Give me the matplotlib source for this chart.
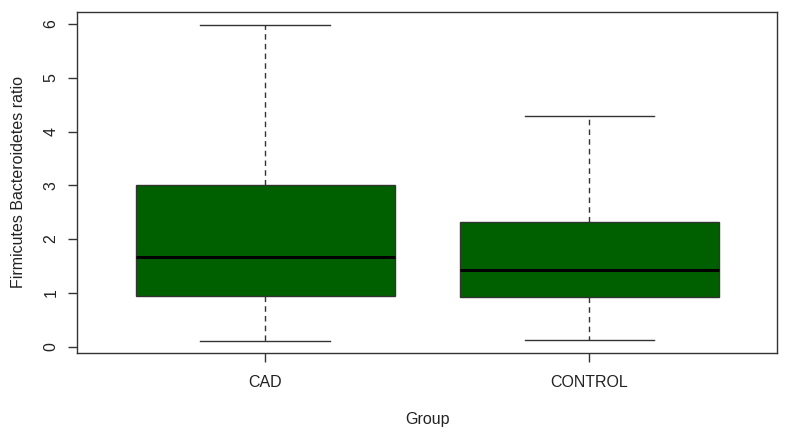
import matplotlib.pyplot as plt

plt.rcParams['font.family'] = ['Liberation Sans', 'DejaVu Sans']

groups = ["CAD", "CONTROL"]
whisker_low = [0.11, 0.12]
q1 = [0.95, 0.93]
medians = [1.67, 1.42]
q3 = [3.01, 2.31]
whisker_high = [5.98, 4.29]

stats = []
for i in range(len(groups)):
    stats.append({"label": groups[i], "whislo": whisker_low[i], "q1": q1[i],
                  "med": medians[i], "q3": q3[i], "whishi": whisker_high[i],
                  "fliers": []})

fig = plt.figure(figsize=(7.89, 4.33), dpi=100)
ax = fig.add_axes([0.098, 0.1848, 0.8874, 0.7875])

ax.bxp(stats, positions=[1, 2], widths=0.8, patch_artist=True, showfliers=False,
       boxprops=dict(facecolor="#006000", edgecolor="#333333", linewidth=1),
       medianprops=dict(color="black", linewidth=2.2),
       whiskerprops=dict(color="#333333", linestyle=(0, (4, 3)), linewidth=1),
       capprops=dict(color="#333333", linewidth=1),
       capwidths=0.4)

ax.set_xlim(0.42, 2.58)
ax.set_ylim(-0.117, 6.223)
ax.set_yticks(range(0, 7))
ax.set_xticks([1, 2])
ax.set_xticklabels(groups)

for lab in ax.get_yticklabels():
    lab.set_rotation(90)
    lab.set_va("center")

ax.tick_params(axis="both", length=6.5, width=1, color="#333333",
               labelsize=11.5, labelcolor="#222222")
ax.tick_params(axis="y", pad=7)
ax.tick_params(axis="x", pad=9)

for s in ax.spines.values():
    s.set_color("#333333")
    s.set_linewidth(1)

ax.set_xlabel("Group", fontsize=11.5, color="#222222", labelpad=16)
ax.set_ylabel("Firmicutes Bacteroidetes ratio", fontsize=11.5, color="#222222", labelpad=12.5)

fig.savefig("out.png", dpi=100)
